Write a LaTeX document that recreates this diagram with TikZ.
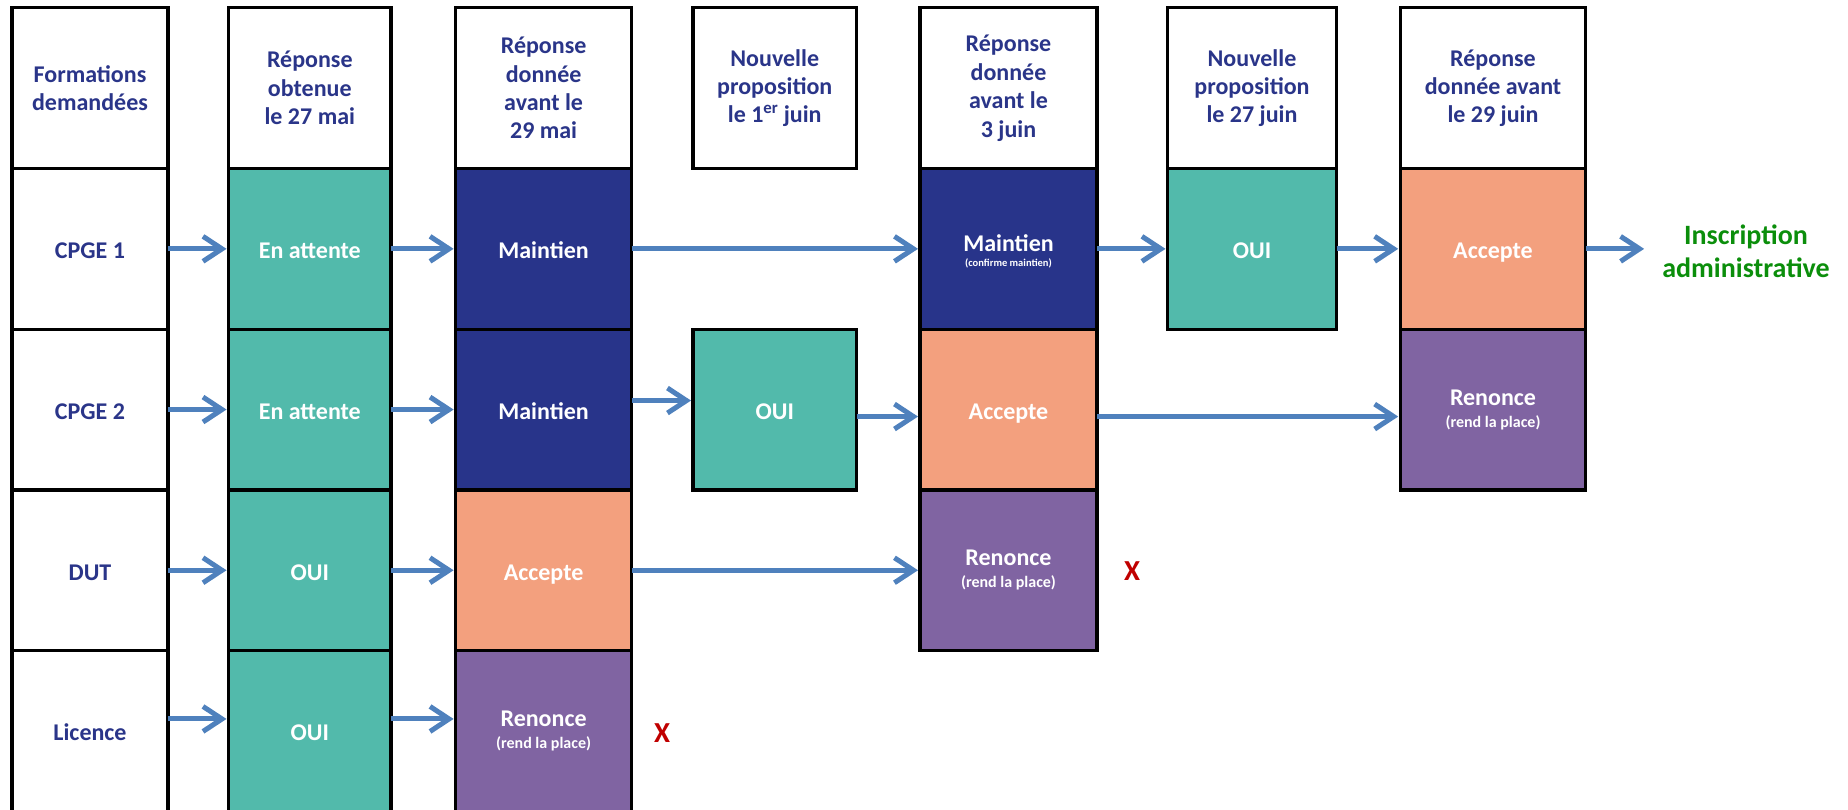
\documentclass[tikz,border=0pt]{standalone}
\usepackage{fontspec}
\setmainfont{Carlito}
\usetikzlibrary{arrows.meta}
\definecolor{navytxt}{HTML}{2A3589}
\definecolor{cteal}{HTML}{52BAAB}
\definecolor{cnavy}{HTML}{28348A}
\definecolor{csalmon}{HTML}{F3A07E}
\definecolor{cpurple}{HTML}{8064A2}
\definecolor{arrblue}{HTML}{4F81BD}
\definecolor{cgreen}{HTML}{0B8E0B}
\definecolor{cred}{HTML}{C00000}
\tikzset{
  cell/.style={draw=black, line width=3.2pt, rectangle, outer sep=0pt, inner sep=0pt,
    align=center, minimum height=160.7pt,
    font=\fontsize{24}{28.4}\selectfont\bfseries},
  hdr/.style={cell, fill=white, text=navytxt},
  st/.style={cell, text=white},
  one/.style={text height=19.5pt, text depth=0pt},
  teal/.style={st, fill=cteal},
  navy/.style={st, fill=cnavy},
  salmon/.style={st, fill=csalmon},
  purple/.style={st, fill=cpurple},
  colA/.style={minimum width=156pt},
  colB/.style={minimum width=162.5pt},
  colC/.style={minimum width=176pt},
  colD/.style={minimum width=163.5pt},
  colE/.style={minimum width=177pt},
  colF/.style={minimum width=169pt},
  colG/.style={minimum width=185.6pt},
  arr/.style={draw=arrblue, line width=5pt, shorten >=2pt,
    -{Straight Barb[length=19pt,width=25pt,line width=5pt]}},
  cross/.style={text=cred, font=\fontsize{29}{30}\selectfont\bfseries, inner sep=0pt},
}
\newcommand{\smallnote}[1]{{\fontsize{16}{18}\selectfont #1}}
\newcommand{\tinynote}[1]{{\fontsize{10.5}{12}\selectfont #1}}
\begin{document}
\begin{tikzpicture}[x=1pt,y=-1pt]
\useasboundingbox (0,0) rectangle (1848,809);
\clip (0,0) rectangle (1848,809);
% column 0
\node[hdr,colA] (h0) at (90,88.15) {Formations\\demandées};
\node[hdr,colA,one] (a1) at (90,248.85) {CPGE 1};
\node[hdr,colA,one] (a2) at (90,409.55) {CPGE 2};
\node[hdr,colA,one] (a3) at (90,570.25) {DUT};
\node[hdr,colA,one] (a4) at (90,730.95) {Licence};
% column 1
\node[hdr,colB] (h1) at (309.8,88.15) {Réponse\\obtenue\\le 27 mai};
\node[teal,colB,one] (b1) at (309.8,248.85) {En attente};
\node[teal,colB,one] (b2) at (309.8,409.55) {En attente};
\node[teal,colB,one] (b3) at (309.8,570.25) {OUI};
\node[teal,colB,one] (b4) at (309.8,730.95) {OUI};
% column 2
\node[hdr,colC] (h2) at (543.6,88.15) {Réponse\\donnée\\avant le\\29 mai};
\node[navy,colC,one] (c1) at (543.6,248.85) {Maintien};
\node[navy,colC,one] (c2) at (543.6,409.55) {Maintien};
\node[salmon,colC,one] (c3) at (543.6,570.25) {Accepte};
\node[purple,colC] (c4) at (543.6,730.95) {Renonce\\[-6.4pt]\smallnote{(rend la place)}};
% column 3
\node[hdr,colD] (h3) at (774.75,88.15) {Nouvelle\\proposition\\le 1\textsuperscript{er} juin};
\node[teal,colD,one] (d2) at (774.75,409.55) {OUI};
% column 4
\node[hdr,colE] (h4) at (1008.5,88.15) {Réponse\\donnée\\avant le\\3 juin};
\node[navy,colE,text height=36.5pt] (e1) at (1008.5,248.85) {Maintien\\[-13.4pt]\tinynote{(confirme maintien)}};
\node[salmon,colE,one] (e2) at (1008.5,409.55) {Accepte};
\node[purple,colE] (e3) at (1008.5,570.25) {Renonce\\[-6.4pt]\smallnote{(rend la place)}};
% column 5
\node[hdr,colF] (h5) at (1252,88.15) {Nouvelle\\proposition\\le 27 juin};
\node[teal,colF,one] (f1) at (1252,248.85) {OUI};
% column 6
\node[hdr,colG] (h6) at (1493,88.15) {Réponse\\donnée avant\\le 29 juin};
\node[salmon,colG,one] (g1) at (1493,248.85) {Accepte};
\node[purple,colG] (g2) at (1493,409.55) {Renonce\\[-6.4pt]\smallnote{(rend la place)}};
% outcome
\node[text=cgreen, align=center, inner sep=0pt, font=\fontsize{28}{32.7}\selectfont\bfseries] (ins) at (1746,251) {Inscription\\administrative};
\node[cross] (x1) at (662,733) {X};
\node[cross] (x2) at (1132,571) {X};
% arrows row 1
\draw[arr] (a1.east) -- (b1.west);
\draw[arr] (b1.east) -- (c1.west);
\draw[arr] (c1.east) -- (e1.west);
\draw[arr] (e1.east) -- (f1.west);
\draw[arr] (f1.east) -- (g1.west);
\draw[arr, shorten >=18pt] (g1.east) -- (g1.east -| ins.west);
% arrows row 2
\draw[arr] (a2.east) -- (b2.west);
\draw[arr] (b2.east) -- (c2.west);
\draw[arr] ([yshift=9pt]c2.east) -- ([yshift=9pt]d2.west);
\draw[arr] ([yshift=-7pt]d2.east) -- ([yshift=-7pt]e2.west);
\draw[arr] ([yshift=-7pt]e2.east) -- ([yshift=-7pt]g2.west);
% arrows row 3
\draw[arr] (a3.east) -- (b3.west);
\draw[arr] (b3.east) -- (c3.west);
\draw[arr] (c3.east) -- (e3.west);
% arrows row 4
\draw[arr] ([yshift=12pt]a4.east) -- ([yshift=12pt]b4.west);
\draw[arr] ([yshift=12pt]b4.east) -- ([yshift=12pt]c4.west);
\end{tikzpicture}
\end{document}
